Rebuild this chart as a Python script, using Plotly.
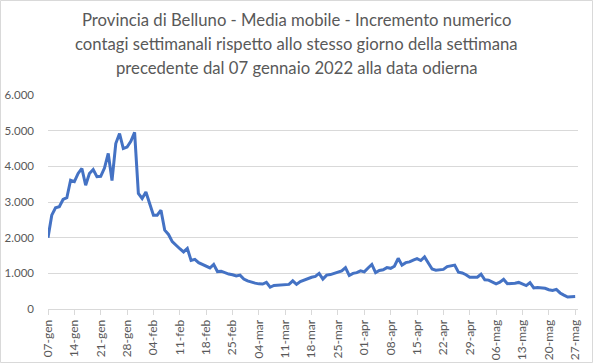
import datetime as dt
import plotly.graph_objects as go

start_date = "2022-01-07"
values = [
    2000, 2630, 2840, 2870, 3070, 3120, 3610, 3570, 3800, 3940,
    3470, 3800, 3910, 3710, 3720, 3950, 4360, 3600, 4640, 4920,
    4500, 4540, 4700, 4950, 3240, 3100, 3280, 2920, 2630, 2630,
    2770, 2210, 2090, 1890, 1780, 1690, 1600, 1700, 1360, 1390,
    1300, 1250, 1200, 1150, 1250, 1050, 1060, 1010, 980, 960,
    925, 950, 840, 790, 750, 725, 705, 700, 745, 610,
    660, 670, 675, 675, 690, 790, 690, 770, 810, 860,
    890, 915, 1000, 840, 950, 965, 1000, 1030, 1070, 1160,
    940, 1000, 1020, 1070, 1040, 1150, 1250, 1020, 1080, 1100,
    1160, 1140, 1200, 1420, 1230, 1300, 1320, 1370, 1410, 1360,
    1460, 1290, 1120, 1090, 1100, 1110, 1190, 1220, 1230, 1030,
    1010, 960, 890, 890, 890, 975, 820, 810, 760, 705,
    750, 830, 710, 710, 725, 745, 700, 655, 740, 590,
    600, 600, 580, 540, 520, 550, 450, 390, 335, 345,
    350,
]
tick_labels = ["07-gen", "14-gen", "21-gen", "28-gen", "04-feb", "11-feb",
               "18-feb", "25-feb", "04-mar", "11-mar", "18-mar", "25-mar",
               "01-apr", "08-apr", "15-apr", "22-apr", "29-apr", "06-mag",
               "13-mag", "20-mag", "27-mag"]
y_ticks = [0, 1000, 2000, 3000, 4000, 5000, 6000]
title_lines = [
    "Provincia di Belluno - Media mobile - Incremento numerico",
    "contagi settimanali rispetto allo stesso giorno della settimana",
    "precedente dal 07 gennaio 2022 alla data odierna",
]

d0 = dt.date.fromisoformat(start_date)
dates = [d0 + dt.timedelta(days=i) for i in range(len(values))]
tick_vals = [d0 + dt.timedelta(days=7 * i) for i in range(len(tick_labels))]

W, H = 593, 363
L, R, T, B = 48, 15, 95, 54
pw = W - L - R
ph = H - T - B

fig = go.Figure()
fig.add_trace(go.Scatter(
    x=dates, y=values, mode="lines",
    line=dict(color="#4472C4", width=3, shape="linear"),
    hoverinfo="skip", showlegend=False,
))

x_end = dt.datetime.combine(dates[-1], dt.time()) + dt.timedelta(hours=18)
fig.update_layout(
    width=W, height=H,
    margin=dict(l=L, r=R, t=T, b=B, autoexpand=False),
    paper_bgcolor="white", plot_bgcolor="white",
    separators=",.",
    font=dict(family="Lato, Carlito, sans-serif", color="#595959", size=12),
    xaxis=dict(
        type="date", automargin=False,
        range=[dt.datetime.combine(d0, dt.time()), x_end],
        tickvals=tick_vals, ticktext=tick_labels, tickangle=-90,
        ticks="outside", ticklen=5, tickcolor="#d9d9d9", tickwidth=1,
        showline=True, linecolor="#d9d9d9", linewidth=1,
        showgrid=False, zeroline=False,
        tickfont=dict(size=12, color="#595959"),
        fixedrange=True,
    ),
    yaxis=dict(
        automargin=False,
        range=[0, 6000], tickvals=y_ticks, tickformat=",d",
        showgrid=True, gridcolor="#d9d9d9", gridwidth=1,
        zeroline=False, showline=False, ticks="",
        ticklabelstandoff=13,
        tickfont=dict(size=11.5, color="#595959"),
        fixedrange=True,
    ),
)

# title lines: centres at 20, 44, 68 px from the top of the image
for i, line in enumerate(title_lines):
    yc = 20 + 24 * i
    fig.add_annotation(
        text=line, xref="paper", yref="paper",
        x=(W / 2 - L) / pw, y=1 + (T - yc) / ph,
        xanchor="center", yanchor="middle", showarrow=False,
        font=dict(family="Lato, Carlito, sans-serif", size=16.7, color="#595959"),
    )

fig.add_shape(
    type="rect", xref="paper", yref="paper",
    x0=(0.5 - L) / pw, x1=(W - 0.5 - L) / pw,
    y0=-(B - 0.5) / ph, y1=1 + (T - 0.5) / ph,
    line=dict(color="#d9d9d9", width=1), layer="below",
)

fig.write_html(
    "out.html",
    config={"displayModeBar": False, "staticPlot": True},
    post_script="document.body.style.margin='0';document.body.style.padding='0';",
)
